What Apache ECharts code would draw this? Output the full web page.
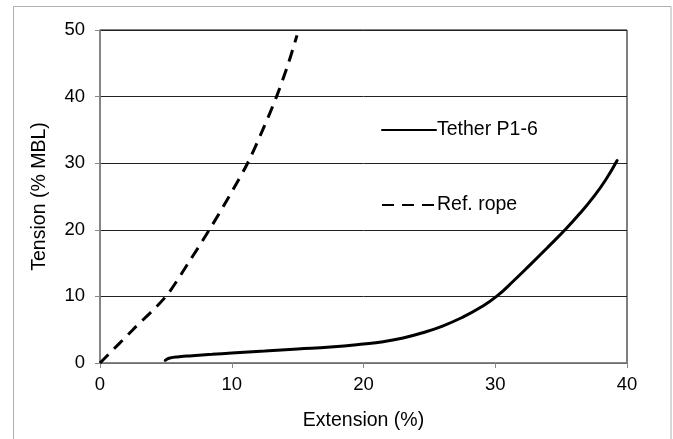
<!DOCTYPE html>
<html>
<head>
<meta charset="utf-8">
<title>Tension vs extension</title>
<script src="https://cdn.jsdelivr.net/npm/echarts@6/dist/echarts.min.js"></script>
<style>
  html, body { margin: 0; padding: 0; background: #fff; }
  #chart { width: 673px; height: 439px; }
</style>
</head>
<body>
<div id="chart"></div>
<script>
// Tether P1-6 load-extension curve: [extension %, tension % MBL]
const tetherP16 = [
  [4.95, 0.4], [5.3, 0.75], [6, 0.95], [7, 1.1], [8.5, 1.3], [10, 1.5],
  [12.5, 1.8], [15, 2.1], [17.5, 2.4], [20, 2.85], [21.5, 3.2], [23, 3.75],
  [24.5, 4.55], [26, 5.55], [27.5, 6.85], [28.8, 8.25], [30.1, 10], [31.4, 12.35],
  [32.7, 14.85], [34, 17.4], [35.3, 20], [36.4, 22.4], [37.4, 24.8], [38.35, 27.4],
  [39.25, 30.4]
];
// Reference rope curve
const refRope = [
  [0, 0], [2.5, 5], [5, 10], [6.7, 15], [8.3, 20], [9.8, 25], [11.2, 30],
  [12.35, 35], [13.4, 40], [14.3, 45], [14.95, 49.2]
];
const seriesNames = ['Tether P1-6', 'Ref. rope'];
const xTicks = { min: 0, max: 40, interval: 10 };
const yTicks = { min: 0, max: 50, interval: 10 };

const font = 'Liberation Sans, Arial, sans-serif';
const chart = echarts.init(document.getElementById('chart'), null, { renderer: 'canvas' });

chart.setOption({
  backgroundColor: '#fff',
  animation: false,
  graphic: [{
    type: 'rect',
    shape: { x: 13.5, y: 6.5, width: 657.5, height: 440 },
    style: { fill: 'none', stroke: '#b0b0b0', lineWidth: 1 },
    silent: true
  }],
  grid: {
    left: 100, right: 46, top: 30, bottom: 76,
    show: true, borderColor: '#000', borderWidth: 1, backgroundColor: 'transparent'
  },
  legend: {
    data: seriesNames,
    orient: 'vertical',
    left: 376, top: 115,
    itemWidth: 54, itemHeight: 20, itemGap: 55,
    itemStyle: { opacity: 0 },
    textStyle: { fontFamily: font, fontSize: 19.5, color: '#000', padding: [0, 0, 0, -4] }
  },
  xAxis: {
    type: 'value',
    min: xTicks.min, max: xTicks.max, interval: xTicks.interval,
    name: 'Extension (%)', nameLocation: 'middle', nameGap: 48,
    nameTextStyle: { fontFamily: font, fontSize: 19.5, color: '#000' },
    axisLine: { show: true, lineStyle: { color: '#888', width: 1.5 } },
    axisTick: { show: true, length: 5, lineStyle: { color: '#888', width: 1 } },
    axisLabel: { fontFamily: font, fontSize: 18.5, color: '#000', margin: 12 },
    splitLine: { show: false }
  },
  yAxis: {
    type: 'value',
    min: yTicks.min, max: yTicks.max, interval: yTicks.interval,
    name: 'Tension (% MBL)', nameLocation: 'middle', nameGap: 50,
    nameTextStyle: { fontFamily: font, fontSize: 19.5, color: '#000' },
    axisLine: { show: true, lineStyle: { color: '#888', width: 1.5 } },
    axisTick: { show: true, length: 5, lineStyle: { color: '#888', width: 1 } },
    axisLabel: { fontFamily: font, fontSize: 18.5, color: '#000', margin: 15 },
    splitLine: { show: true, lineStyle: { color: '#222', width: 1 } }
  },
  series: [
    {
      name: seriesNames[0], type: 'line', data: tetherP16,
      smooth: 0.5, showSymbol: false, symbol: 'none',
      lineStyle: { color: '#000', width: 3, cap: 'round' },
      itemStyle: { color: '#000' }
    },
    {
      name: seriesNames[1], type: 'line', data: refRope,
      smooth: 0.3, showSymbol: false, symbol: 'none',
      lineStyle: { color: '#000', width: 3, type: [12, 8] },
      itemStyle: { color: '#000' }
    }
  ]
});
</script>
</body>
</html>
